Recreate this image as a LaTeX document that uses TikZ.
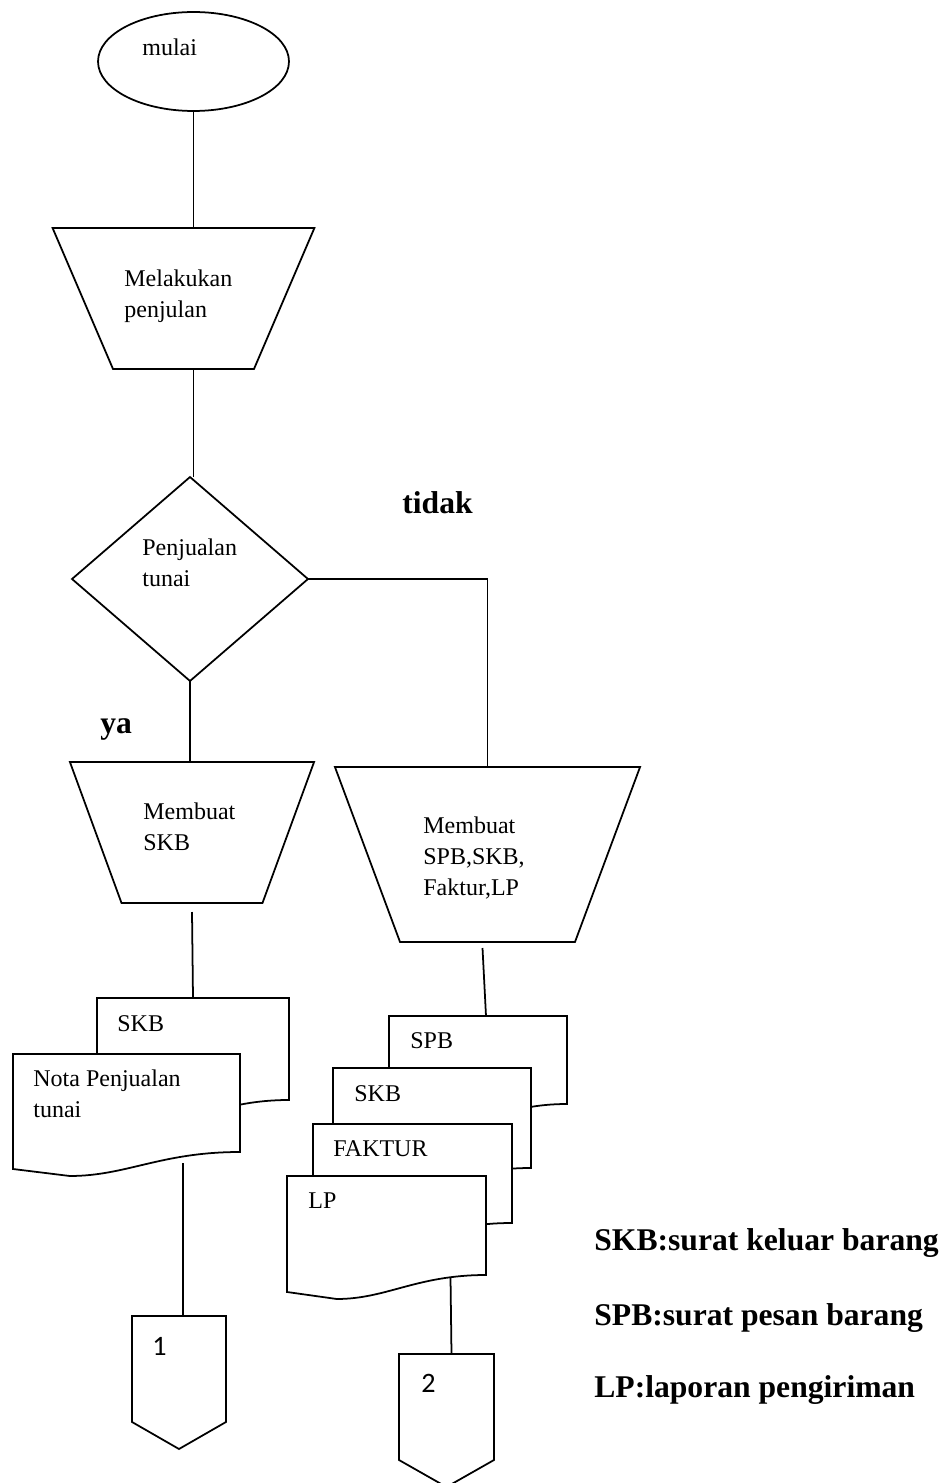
\documentclass[tikz,border=0pt]{standalone}
\usepackage{fontspec}
\setmainfont{Liberation Serif}
\newfontfamily\numfont{Carlito}
\usetikzlibrary{shapes.geometric,calc}

\tikzset{
    box/.style={draw, line width=1pt, inner sep=0pt, outer sep=0pt},
    proc/.style={box, trapezium, shape border rotate=180, trapezium angle=#1, inner sep=2pt},
    page/.style={rectangle, inner sep=0pt, outer sep=0pt},
    link/.style={line width=1pt},
    txt/.style={inner sep=0pt, anchor=base west, align=left, font=\fontsize{13.66}{17.5}\selectfont},
    num/.style={inner sep=0pt, anchor=base west, font=\numfont\fontsize{16}{19}\selectfont},
    note/.style={inner sep=0pt, anchor=base west, font=\fontsize{18}{22}\selectfont\bfseries},
}

% document sheet with wavy lower edge
\newcommand{\drawdoc}[1]{%
    \draw[link, fill=white] (#1.north west) -- (#1.north east) -- (#1.south east)
        .. controls ($(#1.south east)!0.35!(#1.south west)$) and ($(#1.south west)!0.5!(#1.south east)+(0,24)$)
        .. ($(#1.south west)!0.25!(#1.south east)+(0,24)$) -- ($(#1.south west)+(0,17)$) -- cycle;}

% off-page connector
\newcommand{\drawoff}[1]{%
    \draw[link, fill=white] (#1.north west) -- (#1.north east) -- (#1.south east)
        -- ($(#1.south)+(0,27)$) -- (#1.south west) -- cycle;}

\begin{document}
\begin{tikzpicture}[x=0.02cm, y=-0.02cm]
        \useasboundingbox (0,0) rectangle (949,1483);

        % main column
        \node[box, ellipse, minimum width=3.82cm, minimum height=1.98cm] (mulai) at (193.5,61.5) {};
        \node[proc=66.8, minimum width=4.88cm, minimum height=2.82cm] (jual) at (183.5,298.5) {};
        \node[box, diamond, minimum width=4.72cm, minimum height=4.08cm] (tunai) at (190,579) {};
        \node[proc=69.9, minimum width=4.16cm, minimum height=2.82cm] (buatskb) at (192,832.5) {};
        \node[proc=69.6, minimum width=5.22cm, minimum height=3.5cm] (buatspb) at (487.5,854.5) {};

        % documents
        \node[page, minimum width=3.84cm, minimum height=2.04cm] (dskb) at (193,1049) {};
        \node[page, minimum width=4.54cm, minimum height=1.96cm] (dnota) at (126.5,1103) {};
        \node[page, minimum width=3.56cm, minimum height=1.76cm] (dspb) at (478,1060) {};
        \node[page, minimum width=3.96cm, minimum height=2cm] (dskbb) at (432,1118) {};
        \node[page, minimum width=3.98cm, minimum height=1.98cm] (dfaktur) at (412.5,1173.5) {};
        \node[page, minimum width=3.98cm, minimum height=1.98cm] (dlp) at (386.5,1225.5) {};

        % off-page connectors
        \node[page, minimum width=1.88cm, minimum height=2.12cm] (off1) at (179,1369) {};
        \node[page, minimum width=1.9cm, minimum height=2.12cm] (off2) at (446.5,1407) {};

        % lines
        \draw[link] (mulai.south) -- (mulai.south |- jual.north);
        \draw[link] (mulai.south |- jual.south) -- (mulai.south |- tunai.north);
        \draw[link] (tunai.east) -| (buatspb.north);
        \draw[link] (tunai.south) -- (tunai.south |- buatskb.north);
        \draw[link] ([yshift=-0.18cm]buatskb.south) -- (dskb.north);
        \draw[link] ([xshift=-0.1cm,yshift=-0.12cm]buatspb.south) -- ([xshift=0.16cm]dspb.north);
        \draw[link] ($(off1.north |- dnota.south)+(4,11)$) -- ($(off1.north)+(4,0)$);
        \draw[link] ($(off2.north |- dlp.south)+(4,2)$) -- ($(off2.north)+(5,0)$);

        \drawdoc{dskb}
        \drawdoc{dnota}
        \drawdoc{dspb}
        \drawdoc{dskbb}
        \drawdoc{dfaktur}
        \drawdoc{dlp}
        \drawoff{off1}
        \drawoff{off2}

        % texts
        \node[txt] (tmulai) at (142,56) {mulai};
        \node[txt] (tjual) at (124,317) {Melakukan\\penjulan};
        \node[txt] (ttunai) at (142,586) {Penjualan\\tunai};
        \node[note] (tidak) at (402,513) {tidak};
        \node[note] (ya) at (100,733) {ya};
        \node[txt] (tbuatskb) at (143,850) {Membuat\\SKB};
        \node[txt] (tbuatspb) at (423,895) {Membuat\\SPB,SKB,\\Faktur,LP};
        \node[txt] (tdskb) at (117,1031) {SKB};
        \node[txt] (tdnota) at (33,1117) {Nota Penjualan\\tunai};
        \node[txt] (tdspb) at (410,1048) {SPB};
        \node[txt] (tdskbb) at (354,1101) {SKB};
        \node[txt] (tdfaktur) at (333,1156) {FAKTUR};
        \node[txt] (tdlp) at (308,1208) {LP};
        \node[num] (toff1) at (152,1355) {1};
        \node[num] (toff2) at (421,1392) {2};

        % legend
        \node[note] (kskb) at (594,1250) {SKB:surat keluar barang};
        \node[note] (kspb) at (594,1325) {SPB:surat pesan barang};
        \node[note] (klp) at (594,1397) {LP:laporan pengiriman};
\end{tikzpicture}
\end{document}
